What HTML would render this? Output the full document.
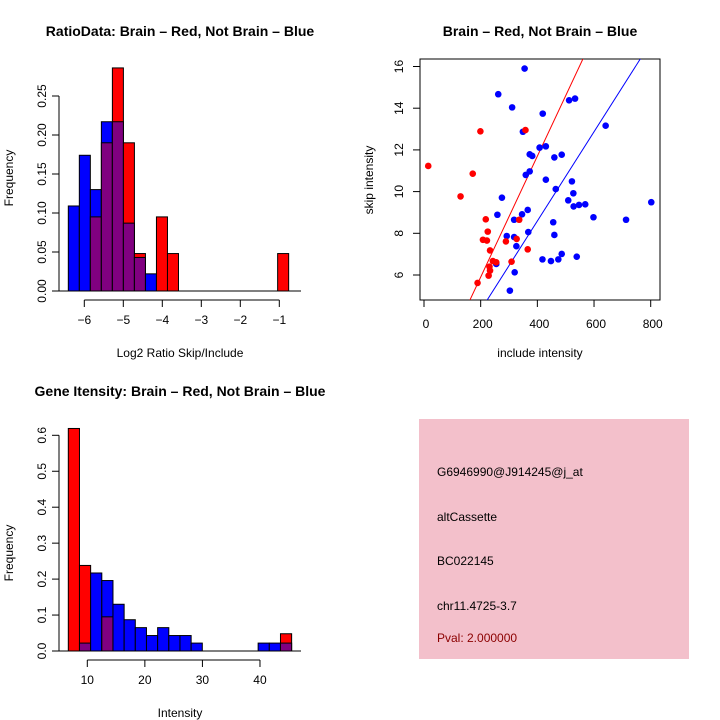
<!DOCTYPE html>
<html><head><meta charset="utf-8"><style>
html,body{margin:0;padding:0;background:#fff;width:720px;height:720px;overflow:hidden}
svg{display:block;font-family:"Liberation Sans",sans-serif}
</style></head><body>
<svg id="c" width="720" height="720" viewBox="0 0 720 720">
<text x="180" y="36" text-anchor="middle" font-size="14" font-weight="bold">RatioData: Brain – Red, Not Brain – Blue</text>
<text x="540" y="36" text-anchor="middle" font-size="14" font-weight="bold">Brain – Red, Not Brain – Blue</text>
<text x="180" y="396" text-anchor="middle" font-size="14" font-weight="bold">Gene Itensity: Brain – Red, Not Brain – Blue</text>
<text x="180" y="357" text-anchor="middle" font-size="12">Log2 Ratio Skip/Include</text>
<text x="13" y="178" text-anchor="middle" font-size="12" transform="rotate(-90 13 178)">Frequency</text>
<text x="540" y="357" text-anchor="middle" font-size="12">include intensity</text>
<text x="373" y="180" text-anchor="middle" font-size="12" transform="rotate(-90 373 180)">skip intensity</text>
<text x="180" y="717" text-anchor="middle" font-size="12">Intensity</text>
<text x="13" y="553" text-anchor="middle" font-size="12" transform="rotate(-90 13 553)">Frequency</text>
<g>
<rect x="419" y="419" width="270" height="240" fill="#f3c0cb"/>
<text x="437" y="476" font-size="12">G6946990@J914245@j_at</text>
<text x="437" y="521" font-size="12">altCassette</text>
<text x="437" y="565" font-size="12">BC022145</text>
<text x="437" y="610" font-size="12">chr11.4725-3.7</text>
<text x="437" y="642" font-size="12" fill="#8b0000">Pval: 2.000000</text>
</g>
</svg>
<script>
// Ratio histogram data
const ratioBlue=[0.109,0.174,0.130,0.217,0.217,0.087,0.043,0.022,0,0,0,0,0,0,0,0,0,0,0,0];
const ratioRed=[0,0,0.095,0.190,0.286,0.190,0.048,0,0.095,0.048,0,0,0,0,0,0,0,0,0,0.048];
const ratioXTicks=[-6,-5,-4,-3,-2,-1];
const ratioYTicks=[0,0.05,0.10,0.15,0.20,0.25];
const ratioYLabels=["0.00","0.05","0.10","0.15","0.20","0.25"];
// Intensity histogram data
const intBlue=[0,0.022,0.217,0.196,0.130,0.087,0.065,0.043,0.065,0.043,0.043,0.022,0,0,0,0,0,0.022,0.022,0.022];
const intRed=[0.619,0.238,0,0.095,0,0,0,0,0,0,0,0,0,0,0,0,0,0,0,0.048];
const intXTicks=[10,20,30,40];
const intYTicks=[0,0.1,0.2,0.3,0.4,0.5,0.6];
const intYLabels=["0.0","0.1","0.2","0.3","0.4","0.5","0.6"];
// Scatter data
const blueX=[355,262,311,419,512,533,641,349,408,430,373,382,460,486,359,373,430,465,522,275,527,509,528,547,569,802,598,713,259,346,366,318,456,292,318,368,460,326,255,418,448,474,486,539,320,303];
const blueY=[15.9,14.67,14.04,13.74,14.38,14.46,13.16,12.87,12.11,12.17,11.79,11.71,11.64,11.77,10.8,10.97,10.57,10.12,10.49,9.71,9.92,9.58,9.29,9.36,9.39,9.49,8.77,8.65,8.89,8.91,9.12,8.65,8.53,7.87,7.82,8.06,7.92,7.38,6.53,6.75,6.67,6.75,7.01,6.88,6.13,5.25];
const redX=[15,172,199,129,358,218,225,208,222,233,289,327,336,366,243,255,231,233,228,309,189];
const redY=[11.23,10.86,12.89,9.77,12.95,8.67,8.08,7.69,7.65,7.18,7.61,7.73,8.65,7.23,6.67,6.61,6.4,6.21,5.97,6.64,5.62];
const fitRed=[0.10,0.0290];
const fitBlue=[0.03,0.0214];
const scatXTicks=[0,200,400,600,800];
const scatYTicks=[6,8,10,12,14,16];

const svg=document.getElementById('c');
const NS='http://www.w3.org/2000/svg';
function mk(tag,at,parent){const e=document.createElementNS(NS,tag);for(const k in at)e.setAttribute(k,at[k]);(parent||svg).appendChild(e);return e;}

function hist(o){
  const g=mk('g',{});
  
  
  const xs=v=>o.x0px+(v-o.x0)*o.xs;
  const ys=v=>o.base-v*o.ys;
  for(let i=0;i<o.blue.length;i++){
    const a=o.start+i*o.bw,b=a+o.bw;
    const bl=o.blue[i],rd=o.red[i];
    const mx=Math.max(bl,rd),mn=Math.min(bl,rd);
    if(mx>0){
      const r=mk('rect',{x:xs(a),y:ys(mx),width:xs(b)-xs(a),height:ys(0)-ys(mx),fill:bl>rd?'#0000ff':'#ff0000',stroke:'#000','stroke-width':1},g);
      
      
    }
    if(mn>0){
      const r=mk('rect',{x:xs(a),y:ys(mn),width:xs(b)-xs(a),height:ys(0)-ys(mn),fill:'#800080',stroke:'#000','stroke-width':1},g);
      
      
    }
  }
  mk('line',{x1:o.axL,x2:o.axR,y1:o.base,y2:o.base,stroke:'#000'},g);
  // y axis
  const yt=o.yTicks;
  mk('line',{x1:o.yAx,x2:o.yAx,y1:ys(yt[0]),y2:ys(yt[yt.length-1]),stroke:'#000'},g);
  yt.forEach((t,i)=>{
    mk('line',{x1:o.yAx-7,x2:o.yAx,y1:ys(t),y2:ys(t),stroke:'#000'},g);
    const tx=mk('text',{x:o.yAx-13,y:ys(t),'font-size':12,'text-anchor':'middle',transform:`rotate(-90 ${o.yAx-13} ${ys(t)})`},g);
    tx.textContent=o.yLabels[i];
    
    
  });
  const xt=o.xTicks;
  mk('line',{x1:xs(xt[0]),x2:xs(xt[xt.length-1]),y1:o.xAxY,y2:o.xAxY,stroke:'#000'},g);
  xt.forEach(t=>{
    mk('line',{x1:xs(t),x2:xs(t),y1:o.xAxY,y2:o.xAxY+7,stroke:'#000'},g);
    const tx=mk('text',{x:xs(t),y:o.xAxY+24,'font-size':12,'text-anchor':'middle'},g);
    tx.textContent=t<0?'\u2212'+(-t):String(t);
    
    
  });
}
hist({name:'ratio-histogram',blue:ratioBlue,red:ratioRed,start:-6.41,bw:0.2825,x0:-6,x0px:84.3,xs:39,base:291,ys:780,axL:52,axR:301,yAx:59,yTicks:ratioYTicks,yLabels:ratioYLabels,xTicks:ratioXTicks,xAxY:300});
hist({name:'intensity-histogram',blue:intBlue,red:intRed,start:6.7,bw:1.94,x0:10,x0px:87.3,xs:5.756,base:651,ys:359.5,axL:52,axR:301,yAx:59,yTicks:intYTicks,yLabels:intYLabels,xTicks:intXTicks,xAxY:660});

// scatter
const sg=mk('g',{});


const sx=v=>424+v*0.28338;
const sy=v=>275-(v-6)*20.85;
const defs=mk('defs',{});
const cp=mk('clipPath',{id:'clip'},defs);
mk('rect',{x:420,y:59,width:240,height:241},cp);
mk('rect',{x:420,y:59,width:240,height:241,fill:'none',stroke:'#000'},sg);
scatXTicks.forEach(t=>{
  mk('line',{x1:sx(t),x2:sx(t),y1:300,y2:307,stroke:'#000'},sg);
  const tx=mk('text',{x:sx(t)+2,y:328,'font-size':12,'text-anchor':'middle'},sg);
  tx.textContent=String(t);
  
  
});
scatYTicks.forEach(t=>{
  mk('line',{x1:413,x2:420,y1:sy(t),y2:sy(t),stroke:'#000'},sg);
  const tx=mk('text',{x:403,y:sy(t),'font-size':12,'text-anchor':'middle',transform:`rotate(-90 403 ${sy(t)})`},sg);
  tx.textContent=String(t);
  
  
});
const lg=mk('g',{'clip-path':'url(#clip)'},sg);
[[fitRed,'#ff0000','fit-line-red'],[fitBlue,'#0000ff','fit-line-blue']].forEach(([f,c,n])=>{
  const l=mk('line',{x1:sx(0),y1:sy(f[0]),x2:sx(900),y2:sy(f[0]+f[1]*900),stroke:c,'stroke-width':1},lg);
  
  
});
blueX.forEach((v,i)=>{
  const c=mk('circle',{cx:sx(v),cy:sy(blueY[i]),r:3.3,fill:'#0000ff'},sg);
  
  
});
redX.forEach((v,i)=>{
  const c=mk('circle',{cx:sx(v),cy:sy(redY[i]),r:3.3,fill:'#ff0000'},sg);
  
  
});
</script>
</body></html>
